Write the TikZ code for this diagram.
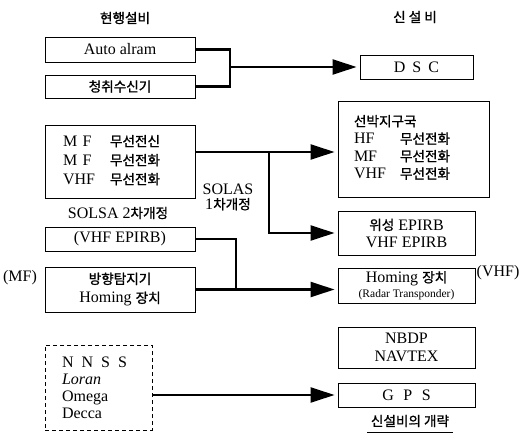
\documentclass[tikz,border=0pt]{standalone}
\usepackage{fontspec}
\setmainfont{Liberation Serif}
\newfontfamily\kr[Scale=0.85, FakeBold=1.2]{Noto Sans CJK KR}
\usetikzlibrary{arrows.meta}

\begin{document}
\begin{tikzpicture}[x=1pt, y=-1pt, font=\fontsize{16}{19}\selectfont,
	box/.style={draw, line width=0.9pt, minimum width=150pt, inner sep=0pt, align=center},
	newbox/.style={box, minimum width=137pt},
	conn/.style={line width=2.3pt},
	arr/.style={conn, -{Triangle[length=24pt, width=15pt]}, shorten >=3pt}]
	\useasboundingbox (0,0) rectangle (524,443);

	% headers
	\node (oldhead) at (125,18) {\kr 현행설비};
	\node (newhead) at (415,17) {\kr 신 설 비};

	% current equipment
	\node[box, minimum height=25pt] (auto) at (120,49.5) {Auto alram};
	\node[box, minimum height=23pt] (listen) at (120,86.5) {\kr 청취수신기};
	\node[box, minimum height=73pt, text width=114pt, inner xsep=18pt, align=left] (mfbox) at (120,161.5)
		{\begin{tabular}{@{}p{47pt}@{}l@{}}M F & {\kr 무선전신}\\ M F & {\kr 무선전화}\\ VHF & {\kr 무선전화}\end{tabular}};
	\node (solsa) at (118,213) {SOLSA 2{\kr 차개정}};
	\node[box, minimum height=24pt] (epirbold) at (120,239) {(VHF EPIRB)};
	\node[box, minimum height=45pt] (homingold) at (120,289.5) {{\kr 방향탐지기}\\Homing {\kr 장치}};
	\node (mf) at (20,278) {(MF)};
	\node[draw, line width=0.9pt, dash pattern=on 4pt off 3pt, minimum width=107pt, minimum height=85pt,
		text width=73pt, inner xsep=17pt, inner ysep=0pt, align=left, font=\fontsize{16}{17}\selectfont] (navold) at (98.5,387.5)
		{N\hspace{8pt}N\hspace{8pt}S\hspace{8pt}S\\ \textit{Loran}\\ Omega\\ Decca};

	% new equipment
	\node[box, minimum width=113pt, minimum height=24pt] (dsc) at (416.5,67) {D\hspace{7pt}S\hspace{7pt}C};
	\node[box, minimum width=151pt, minimum height=96pt, text width=119pt, inner xsep=16pt, align=left] (ship) at (413.5,149)
		{\renewcommand{\arraystretch}{0.92}\begin{tabular}{@{}p{46pt}@{}l@{}}\multicolumn{2}{@{}l@{}}{\kr 선박지구국}\\ HF & {\kr 무선전화}\\ MF & {\kr 무선전화}\\ VHF & {\kr 무선전화}\end{tabular}};
	\node[newbox, minimum height=44pt, font=\fontsize{16}{17}\selectfont] (epirbnew) at (406.5,233) {{\kr 위성} EPIRB\\VHF EPIRB};
	\node[newbox, minimum height=35pt, font=\fontsize{16}{15}\selectfont] (homingnew) at (406.5,285.5)
		{Homing {\kr 장치}\\{\fontsize{11.5}{12}\selectfont (Radar Transponder)}};
	\node (vhf) at (498,273) {(VHF)};
	\node[newbox, minimum height=41pt, font=\fontsize{16}{18}\selectfont] (nbdp) at (406.5,347.5) {NBDP\\NAVTEX};
	\node[newbox, minimum height=24pt] (gps) at (406.5,395) {G\hspace{9.5pt}P\hspace{9.5pt}S};
	\node (foot) at (410,421) {\kr 신설비의 개략};
	\draw[line width=1pt] ([yshift=-2pt]foot.south west) -- ([yshift=-2pt]foot.south east);

	% connectors
	\coordinate (topjoin) at (230,67);
	\draw[conn] (auto.east) -| (topjoin) |- (listen.east);
	\draw[arr] (topjoin) -- (dsc.west);

	\node[align=center, font=\fontsize{16}{15}\selectfont] (solas) at (228,197) {SOLAS\\1{\kr 차개정}};
	\coordinate (solasjoin) at (269,152);
	\draw[arr] (mfbox.east |- solasjoin) -- (solasjoin -| ship.west);
	\draw[arr] (solasjoin) |- (epirbnew.west);

	\coordinate (epirbjoin) at (236,289.5);
	\draw[conn] (epirbold.east) -| (epirbjoin);
	\draw[arr] (homingold.east) -- (homingold.east -| homingnew.west);

	\draw[arr] (navold.east |- gps.west) -- (gps.west);
\end{tikzpicture}
\end{document}
